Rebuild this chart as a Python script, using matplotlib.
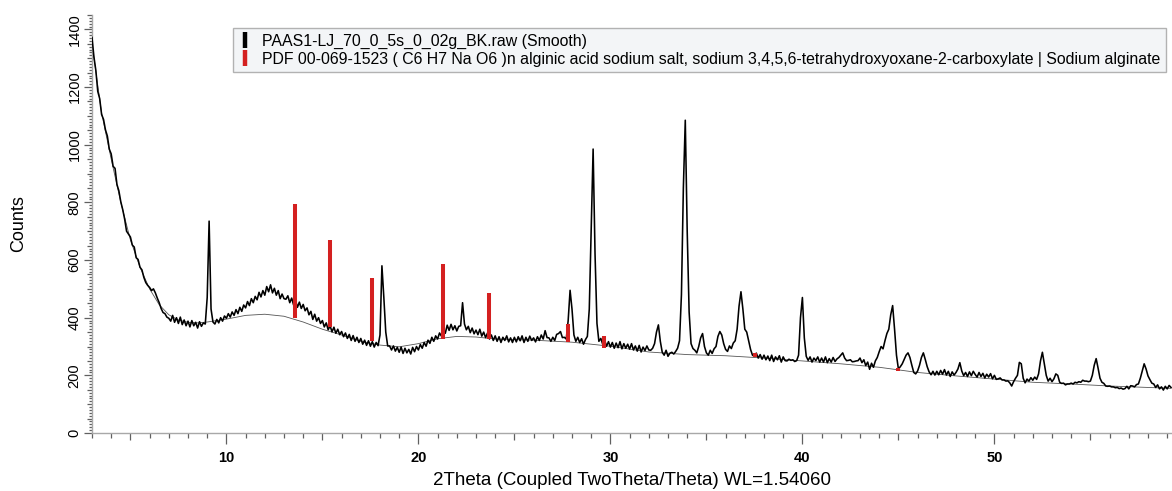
import matplotlib
matplotlib.use("Agg")
import matplotlib.pyplot as plt
import numpy as np
from matplotlib.lines import Line2D
from matplotlib.ticker import MultipleLocator, FuncFormatter

plt.rcParams['font.family'] = ['Liberation Sans', 'DejaVu Sans']

# Smoothed scan, 0.1 deg steps starting at 3.0 deg (one row per degree)
start_2theta = 3.0
step_2theta = 0.1
counts = (
    [1372, 1305, 1258, 1185, 1160, 1105, 1088, 1052, 1030, 985]   # 3
    + [968, 925, 918, 862, 840, 802, 775, 742, 700, 690]          # 4
    + [680, 652, 645, 608, 602, 575, 566, 540, 522, 512]          # 5
    + [505, 494, 500, 486, 468, 452, 432, 418, 414, 402]          # 6
    + [398, 388, 408, 384, 400, 380, 402, 376, 392, 372]          # 7
    + [388, 368, 390, 372, 384, 364, 386, 370, 382, 378]          # 8
    + [470, 735, 430, 385, 378, 394, 382, 400, 388, 406]          # 9
    + [398, 414, 402, 420, 408, 428, 414, 436, 422, 444]          # 10
    + [434, 456, 442, 466, 452, 474, 462, 488, 472, 494]          # 11
    + [478, 508, 490, 514, 486, 502, 478, 494, 466, 482]          # 12
    + [466, 464, 476, 452, 468, 444, 460, 436, 454, 432]          # 13
    + [446, 424, 434, 410, 422, 394, 412, 388, 400, 380]          # 14
    + [390, 368, 382, 358, 372, 351, 367, 346, 360, 341]          # 15
    + [352, 334, 347, 328, 342, 321, 338, 318, 332, 314]          # 16
    + [328, 308, 322, 304, 320, 301, 317, 298, 314, 303]          # 17
    + [340, 580, 470, 350, 302, 302, 288, 302, 284, 297]          # 18
    + [280, 298, 276, 294, 278, 290, 274, 297, 282, 300]          # 19
    + [288, 307, 294, 314, 301, 322, 311, 332, 318, 337]          # 20
    + [326, 347, 336, 360, 346, 374, 356, 377, 358, 372]          # 21
    + [354, 370, 372, 452, 378, 358, 370, 348, 364, 344]          # 22
    + [357, 341, 360, 336, 350, 331, 347, 326, 340, 321]          # 23
    + [337, 318, 334, 314, 332, 321, 337, 316, 330, 314]          # 24
    + [332, 316, 334, 320, 337, 314, 332, 318, 336, 321]          # 25
    + [330, 316, 334, 321, 340, 326, 355, 331, 330, 318]          # 26
    + [332, 321, 342, 345, 352, 331, 332, 326, 390, 495]          # 27
    + [430, 340, 318, 332, 314, 327, 308, 324, 335, 430]          # 28
    + [700, 985, 620, 380, 318, 328, 308, 322, 301, 317]          # 29
    + [298, 314, 294, 312, 296, 317, 292, 310, 294, 308]          # 30
    + [291, 310, 288, 302, 284, 304, 281, 298, 286, 302]          # 31
    + [288, 287, 294, 310, 350, 375, 318, 280, 270, 287]          # 32
    + [266, 277, 280, 274, 283, 294, 320, 480, 850, 1085]         # 33
    + [700, 420, 310, 293, 287, 278, 300, 330, 345, 300]          # 34
    + [278, 270, 287, 276, 292, 300, 335, 352, 340, 310]          # 35
    + [290, 283, 302, 293, 312, 320, 360, 440, 490, 430]          # 36
    + [360, 350, 320, 290, 270, 266, 277, 260, 272, 256]          # 37
    + [270, 254, 267, 251, 270, 248, 264, 254, 268, 246]          # 38
    + [264, 251, 250, 256, 252, 254, 248, 251, 270, 400]          # 39
    + [470, 330, 266, 252, 264, 246, 260, 251, 264, 246]          # 40
    + [260, 246, 264, 244, 258, 246, 262, 248, 257, 262]          # 41
    + [270, 278, 260, 251, 252, 254, 247, 248, 250, 251]          # 42
    + [260, 244, 254, 234, 246, 221, 242, 228, 250, 262]          # 43
    + [282, 300, 292, 320, 345, 360, 410, 442, 360, 270]          # 44
    + [222, 230, 240, 255, 270, 278, 262, 235, 210, 205]          # 45
    + [215, 235, 262, 278, 255, 230, 212, 202, 214, 201]          # 46
    + [214, 202, 217, 204, 220, 201, 214, 196, 212, 201]          # 47
    + [210, 222, 244, 215, 199, 210, 196, 212, 199, 214]          # 48
    + [203, 194, 210, 196, 207, 191, 204, 194, 206, 188]          # 49
    + [200, 186, 188, 191, 184, 184, 180, 181, 174, 163]          # 50
    + [178, 190, 200, 245, 240, 190, 174, 187, 180, 192]          # 51
    + [183, 194, 186, 205, 250, 280, 240, 200, 180, 190]          # 52
    + [178, 188, 205, 200, 176, 172, 173, 167, 170, 170]          # 53
    + [173, 170, 176, 174, 178, 176, 183, 180, 180, 178]          # 54
    + [180, 200, 235, 258, 225, 190, 176, 172, 163, 162]          # 55
    + [163, 160, 160, 157, 158, 154, 156, 152, 154, 162]          # 56
    + [153, 164, 163, 160, 168, 170, 190, 215, 240, 222]          # 57
    + [198, 185, 173, 170, 158, 167, 153, 160, 149, 162]          # 58
    + [153, 165, 158]                                             # 59
)

# Fitted background (thin grey line)
bg_2theta = [3.0, 3.5, 4.0, 4.5, 5.0, 5.5, 6.0, 6.5, 7.0, 7.5, 8.0, 8.5, 9.0,
             10, 11, 12, 13, 14, 15, 16, 17, 18, 19, 20, 21, 22, 23, 24, 26,
             28, 30, 32, 34, 36, 38, 40, 42, 44, 46, 48, 50, 52, 54, 56, 58, 59.2]
bg_counts = [1350, 1110, 950, 800, 670, 575, 500, 445, 410, 392, 384, 382, 385,
             395, 408, 412, 405, 385, 360, 340, 318, 305, 299, 310, 327, 335, 333,
             326, 322, 315, 301, 281, 272, 268, 260, 250, 240, 228, 210, 198, 187,
             176, 170, 163, 158, 155]

# Reference pattern PDF 00-069-1523 (sticks drawn from background upwards)
ref_2theta = [13.57, 15.39, 17.6, 21.28, 23.7, 27.77, 29.68, 37.53, 45.0]
ref_top = [795, 669, 537, 586, 486, 377, 337, 276, 224]
ref_bottom = [400, 366, 319, 325, 326, 317, 296, 262, 214]

legend_labels = [
    "PAAS1-LJ_70_0_5s_0_02g_BK.raw (Smooth)",
    "PDF 00-069-1523 ( C6 H7 Na O6 )n alginic acid sodium salt, sodium "
    "3,4,5,6-tetrahydroxyoxane-2-carboxylate | Sodium alginate",
]

two_theta = start_2theta + step_2theta * np.arange(len(counts))

fig = plt.figure(figsize=(11.72, 4.91), dpi=100)
ax = fig.add_axes([92 / 1172, 1 - 433 / 491, 1 - 92 / 1172, 418 / 491])

ax.plot(bg_2theta, bg_counts, color='#555555', lw=0.6, zorder=2)
ax.plot(two_theta, counts, color='black', lw=1.15, zorder=3)
ax.vlines(ref_2theta, ref_bottom, ref_top, color='#d42020', lw=2.9, zorder=4)

ax.set_xlim(3.0, 59.25)
ax.set_ylim(0, 1450)

for side in ['top', 'right']:
    ax.spines[side].set_visible(False)
for side in ['left', 'bottom']:
    ax.spines[side].set_color('#a8a8a8')
    ax.spines[side].set_linewidth(1.0)

# x: labels every 10, ticks every 5 (medium) and 1 (minor)
ax.xaxis.set_major_locator(MultipleLocator(5))
ax.xaxis.set_minor_locator(MultipleLocator(1))
ax.xaxis.set_major_formatter(FuncFormatter(
    lambda v, p: f"{v:.0f}" if abs(v % 10) < 1e-6 else ""))
# y: labels every 200, ticks every 50 (medium) and 10 (minor)
ax.yaxis.set_major_locator(MultipleLocator(50))
ax.yaxis.set_minor_locator(MultipleLocator(10))
ax.yaxis.set_major_formatter(FuncFormatter(
    lambda v, p: f"{v:.0f}" if abs(v % 200) < 1e-6 else ""))

ax.tick_params(axis='both', which='both', direction='out', color='#606060', width=0.9)
ax.tick_params(axis='x', which='major', length=5, pad=8, labelsize=10.5)
ax.tick_params(axis='x', which='minor', length=3.5)
ax.tick_params(axis='y', which='major', length=3.5, pad=4, labelsize=10.5)
ax.tick_params(axis='y', which='minor', length=2)
for lbl in ax.get_xticklabels():
    lbl.set_fontweight('bold')
for lbl in ax.get_yticklabels():
    lbl.set_rotation(90)
    lbl.set_va('center')

# longer ticks at labelled positions
for tick in ax.xaxis.get_major_ticks():
    if abs(tick.get_loc() % 10) < 1e-6:
        tick.tick1line.set_markersize(8)
for tick in ax.yaxis.get_major_ticks():
    if abs(tick.get_loc() % 200) < 1e-6:
        tick.tick1line.set_markersize(6)

ax.set_xlabel("2Theta (Coupled TwoTheta/Theta) WL=1.54060", fontsize=13.5, labelpad=5)
ax.set_ylabel("Counts", fontsize=13, labelpad=29)

handles = [
    Line2D([], [], color='black', marker='|', linestyle='none',
           markersize=11, markeredgewidth=3.2),
    Line2D([], [], color='#d42020', marker='|', linestyle='none',
           markersize=11, markeredgewidth=3.2),
]
leg = fig.legend(handles, legend_labels, loc='upper left',
                 bbox_to_anchor=(233 / 1172, 1 - 28 / 491),
                 fontsize=11.4, frameon=True, fancybox=False,
                 handlelength=0.8, handletextpad=0.7, labelspacing=0.2,
                 borderpad=0.35, borderaxespad=0)
leg.get_frame().set_facecolor('#f1f3f6')
leg.get_frame().set_edgecolor('#a0a0a0')
leg.get_frame().set_linewidth(1.0)

fig.savefig("out.png", dpi=100)
